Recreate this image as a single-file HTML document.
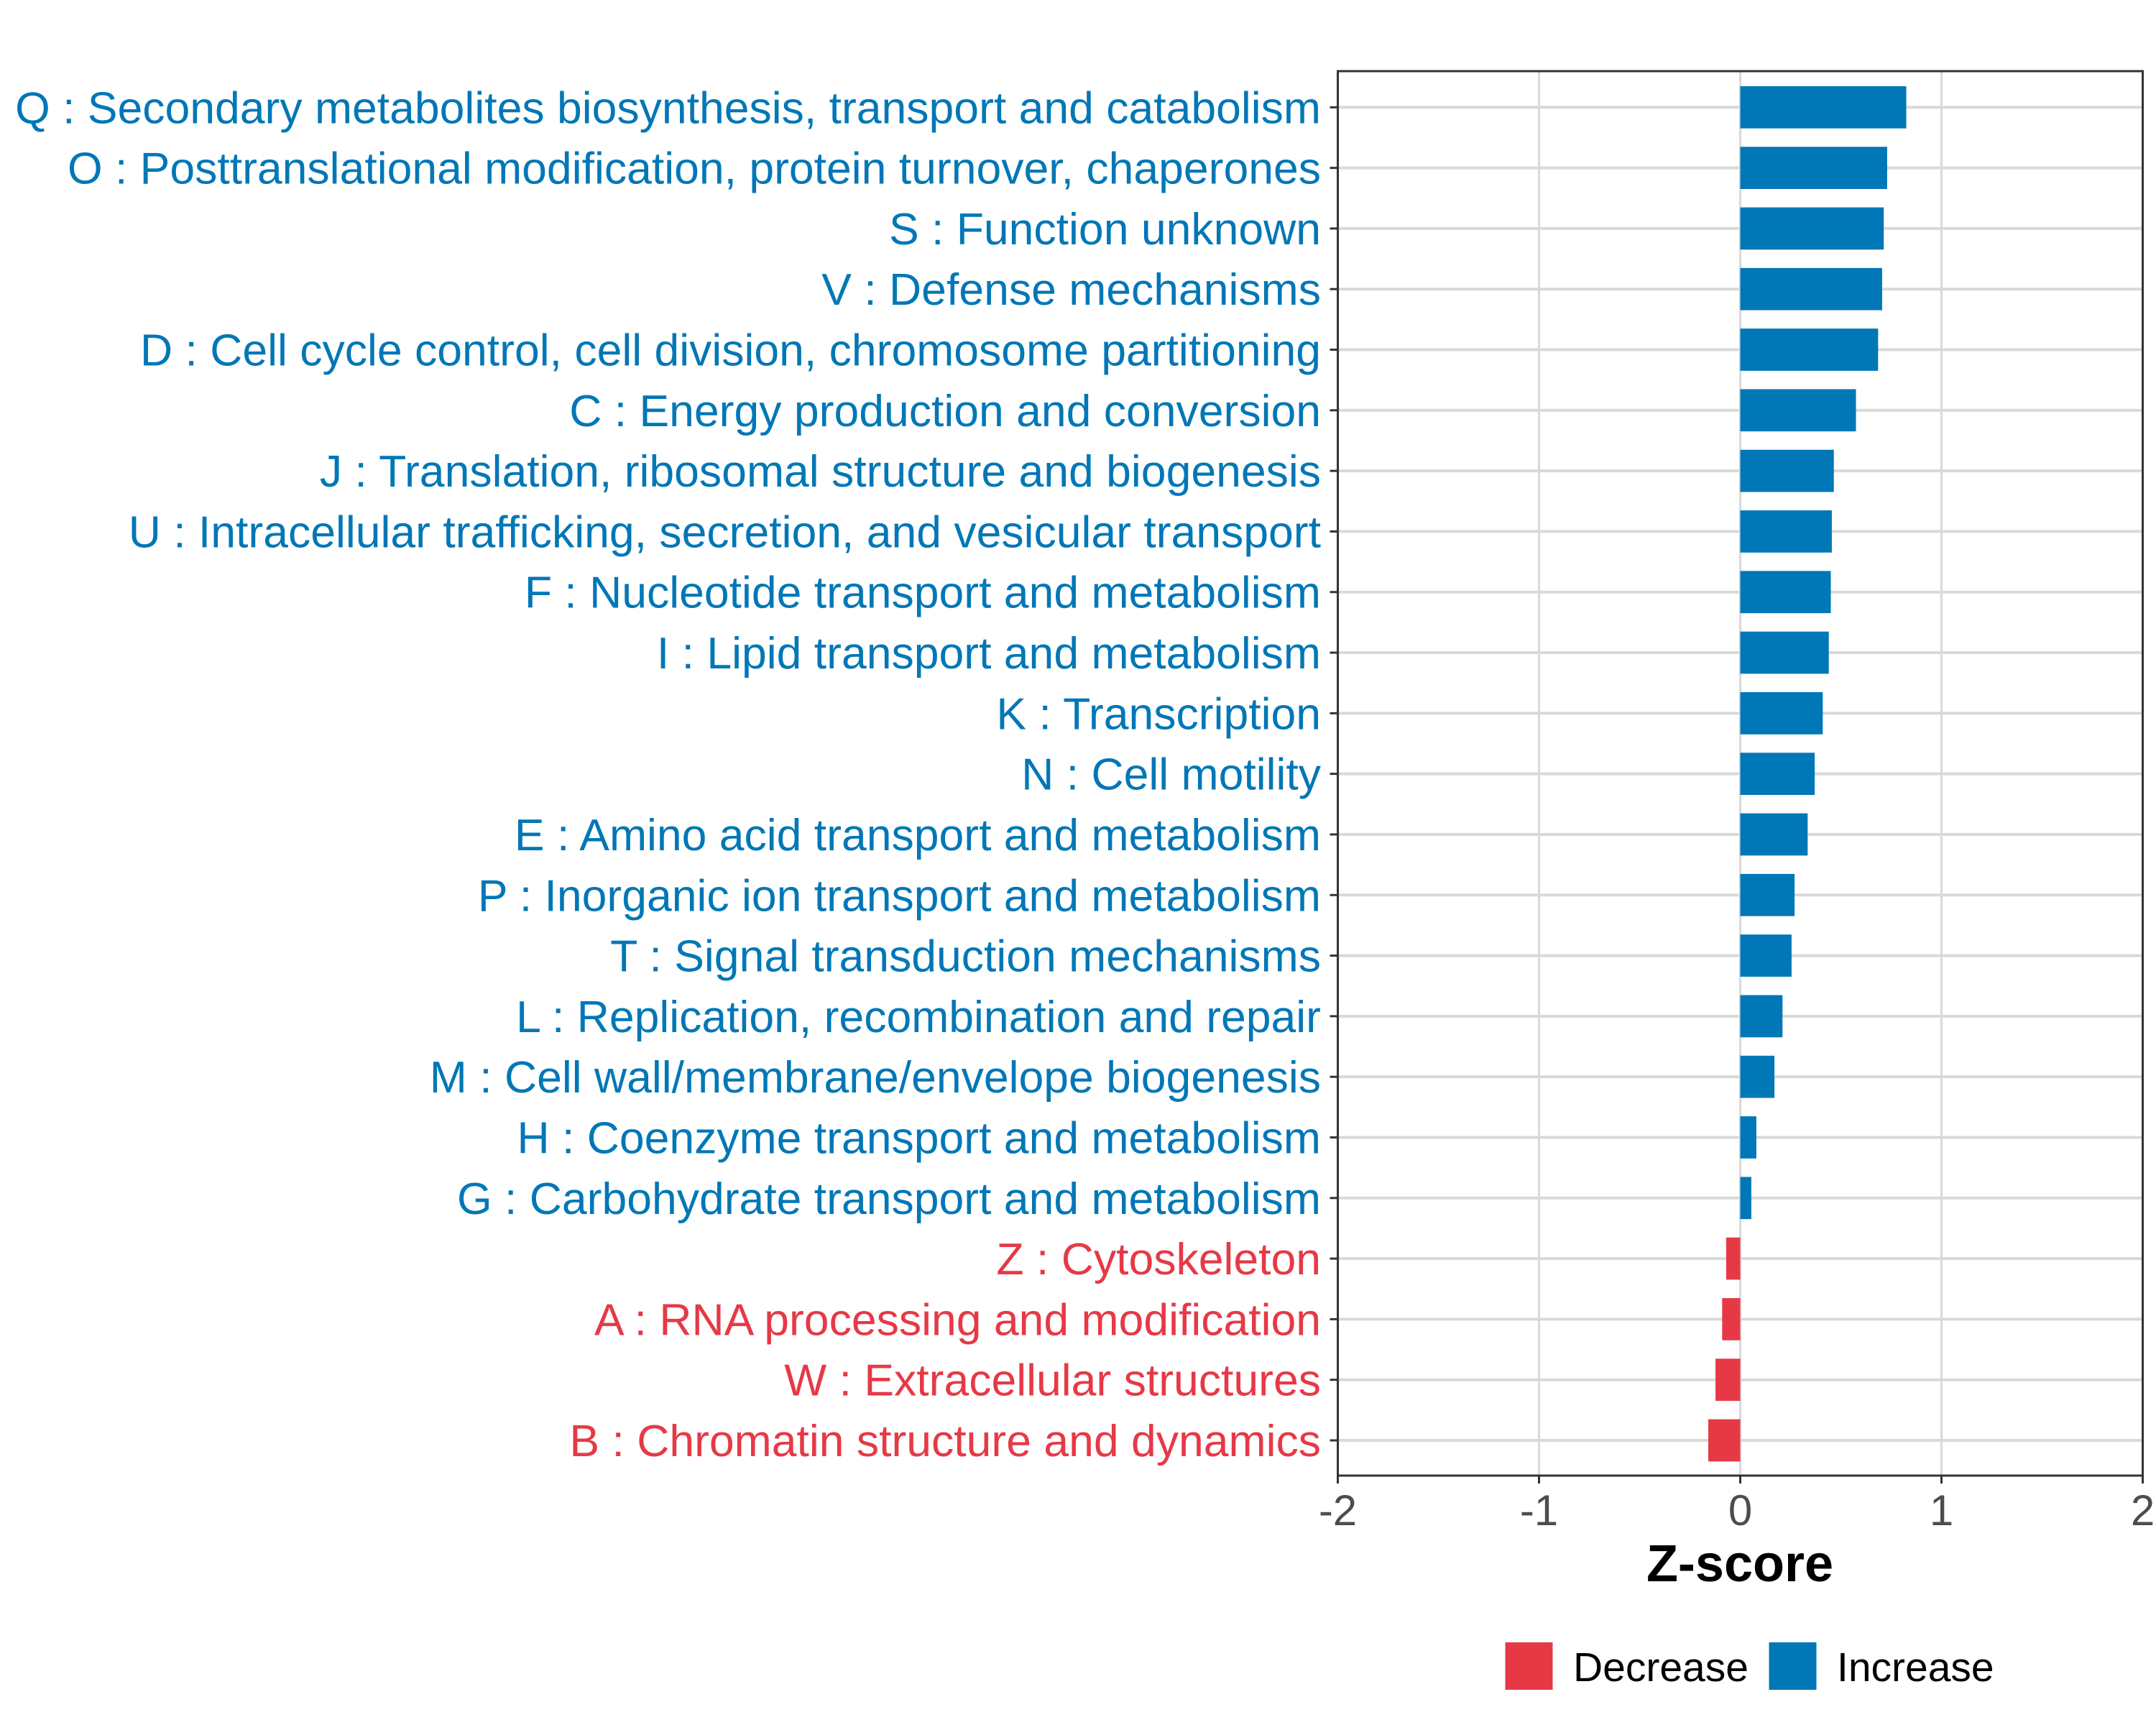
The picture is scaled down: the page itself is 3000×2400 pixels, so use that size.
<!DOCTYPE html>
<html><head><meta charset="utf-8"><style>html,body{margin:0;padding:0;background:#fff}svg{display:block}</style></head>
<body>
<svg id="chart" width="3000" height="2400" viewBox="0 0 3000 2400" xmlns="http://www.w3.org/2000/svg" font-family="'Liberation Sans', Arial, sans-serif">
<rect width="3000" height="2400" fill="#fff"/>
<g id="grid"></g>
<g id="bars"></g>
<g id="ylabels"></g>
<g id="xaxis"></g>
<rect x="1861.5" y="99" width="1120" height="1954" fill="none" stroke="#333" stroke-width="3"/>
<text x="2421" y="2200" font-size="72" font-weight="bold" text-anchor="middle" fill="#000">Z-score</text>
<g>
<rect x="2094.5" y="2285" width="66" height="66" fill="#E63946"/>
<text x="2189" y="2339" font-size="57" fill="#000">Decrease</text>
<rect x="2461.5" y="2285" width="66" height="66" fill="#0077B6"/>
<text x="2556" y="2339" font-size="57" fill="#000">Increase</text>
</g>
</svg>
<script>
const categories = [
"Q : Secondary metabolites biosynthesis, transport and catabolism",
"O : Posttranslational modification, protein turnover, chaperones",
"S : Function unknown",
"V : Defense mechanisms",
"D : Cell cycle control, cell division, chromosome partitioning",
"C : Energy production and conversion",
"J : Translation, ribosomal structure and biogenesis",
"U : Intracellular trafficking, secretion, and vesicular transport",
"F : Nucleotide transport and metabolism",
"I : Lipid transport and metabolism",
"K : Transcription",
"N : Cell motility",
"E : Amino acid transport and metabolism",
"P : Inorganic ion transport and metabolism",
"T : Signal transduction mechanisms",
"L : Replication, recombination and repair",
"M : Cell wall/membrane/envelope biogenesis",
"H : Coenzyme transport and metabolism",
"G : Carbohydrate transport and metabolism",
"Z : Cytoskeleton",
"A : RNA processing and modification",
"W : Extracellular structures",
"B : Chromatin structure and dynamics"];
const zscores = [0.825,0.73,0.713,0.705,0.685,0.575,0.465,0.455,0.45,0.44,0.41,0.37,0.335,0.27,0.255,0.21,0.17,0.08,0.055,-0.07,-0.09,-0.123,-0.159];
const xTicks = [-2,-1,0,1,2];
const xTickLabels = ["-2","-1","0","1","2"];

const NS="http://www.w3.org/2000/svg";
const xL=1861.5, xR=2981.5, yTop=99, yBot=2053;
const xMin=-2, xMax=2;
function xs(v){return xL+(v-xMin)/(xMax-xMin)*(xR-xL);}
function ys(i){return 149.3+i*((2004-149.3)/(categories.length-1));}
const barH=58.7;
function mk(tag,attrs,parent){const e=document.createElementNS(NS,tag);for(const k in attrs)e.setAttribute(k,attrs[k]);parent.appendChild(e);return e;}
const grid=document.getElementById('grid'),bars=document.getElementById('bars'),yl=document.getElementById('ylabels'),xa=document.getElementById('xaxis');
xTicks.forEach((t,i)=>{
  const g=mk('line',{x1:xs(t),x2:xs(t),y1:yTop,y2:yBot,stroke:'#D9D9D9','stroke-width':3},grid);
  
  
  const tk=mk('line',{x1:xs(t),x2:xs(t),y1:yBot,y2:yBot+11,stroke:'#333','stroke-width':3},xa);
  
  
  const lb=mk('text',{x:xs(t),y:2122,'font-size':60,'text-anchor':'middle',fill:'#4D4D4D'},xa);
  lb.textContent=xTickLabels[i];
  
  
});
categories.forEach((c,i)=>{
  const y=ys(i), v=zscores[i];
  const col=v<0?'#E63946':'#0077B6';
  const gl=mk('line',{x1:xL,x2:xR,y1:y,y2:y,stroke:'#D9D9D9','stroke-width':4},grid);
  
  
  const x0=Math.min(xs(0),xs(v)), w=Math.abs(xs(v)-xs(0));
  const r=mk('rect',{x:x0,y:y-barH/2,width:w,height:barH,fill:col},bars);
  
  
  const tk=mk('line',{x1:xL-11,x2:xL,y1:y,y2:y,stroke:'#333','stroke-width':3},yl);
  
  
  const t=mk('text',{x:1838,y:y+22,'font-size':62.5,'text-anchor':'end',fill:col},yl);
  t.textContent=c;
  
  
});
</script>
</body></html>
